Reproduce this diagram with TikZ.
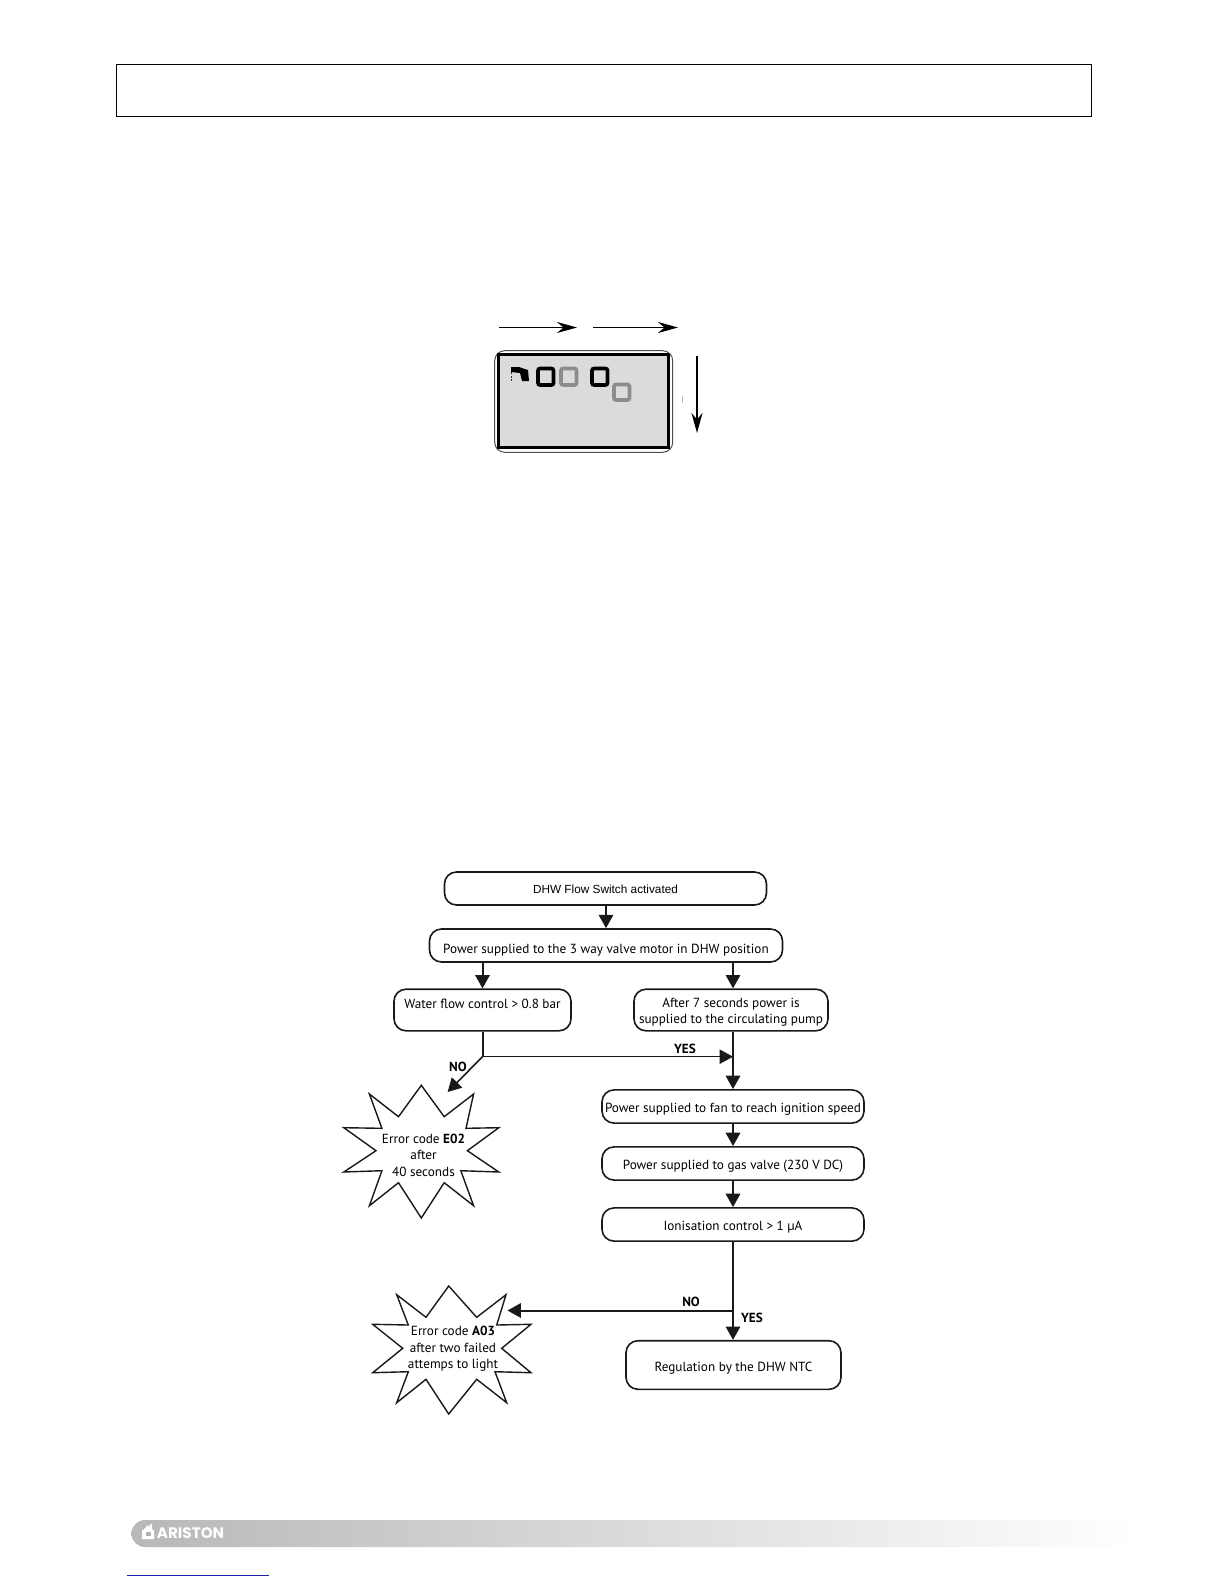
\documentclass[tikz,border=0pt]{standalone}
\usepackage{fontspec}
\setmainfont{PT Sans}
\newfontfamily\arialfont{Liberation Sans}
\newfontfamily\logofont{Poppins}
\usetikzlibrary{arrows.meta,positioning,calc}
\definecolor{lcdbg}{gray}{0.86}
\definecolor{seggray}{gray}{0.55}
\definecolor{linkblue}{RGB}{30,30,170}
\newcommand{\dn}{\rule{0pt}{7.6pt}}
\tikzset{
  flowbox/.style={draw=black!90,line width=0.8pt,rounded corners=6pt,inner sep=0pt,align=center,
    font=\fontsize{6.6}{8.2}\selectfont},
  burst/.style={draw=black!90,line width=0.7pt,fill=white,line join=miter},
  bursttext/.style={inner sep=0pt,align=center,font=\fontsize{6.6}{8.2}\selectfont},
  flowarrow/.style={line width=1pt,draw=black!90,-{Triangle[length=6.7pt,width=7.2pt]}},
  thinflow/.style={line width=0.45pt,draw=black!90,-{Triangle[length=6.7pt,width=7.2pt]}},
  lcdarrow/.style={line width=0.9pt,-{Stealth[length=10pt,width=5.5pt]}},
  seglabel/.style={inner sep=0pt,font=\bfseries\fontsize{6.6}{8}\selectfont},
  digit/.style={line width=1.8pt,rounded corners=1pt},
}
\begin{document}
\begin{tikzpicture}[x=0.5pt,y=-0.5pt]
\useasboundingbox (0,0) rectangle (1224,1584);
% header frame
\node[draw,line width=0.5pt,minimum width=487.5pt,minimum height=25.7pt,inner sep=0pt] (header) at (603.7,90.5) {};
% LCD
\coordinate (a1s) at (499,327.5); \coordinate (a1e) at (577,327.5);
\coordinate (a2s) at (593,327.5); \coordinate (a2e) at (678,327.5);
\coordinate (a3s) at (697,356);   \coordinate (a3e) at (697,433);
\draw[lcdarrow] (a1s) -- (a1e);
\draw[lcdarrow] (a2s) -- (a2e);
\draw[lcdarrow] (a3s) -- (a3e);
\draw[line width=0.5pt,rounded corners=5pt,draw=black!70] (494.7,350.7) rectangle (672.7,452.3);
\draw[fill=lcdbg,line width=1.2pt] (498.5,354.5) rectangle (668,447.5);
\fill (496.5,353) rectangle (499.5,448.5);
\fill (667,353.5) rectangle (670,448.5);
\draw[digit,draw=black] (538,368.5) rectangle (553.5,385);
\draw[digit,draw=seggray] (561,368.5) rectangle (576.5,385);
\draw[digit,draw=black] (592,368.5) rectangle (607.5,385);
\draw[digit,draw=seggray] (614,384.5) rectangle (629.5,400);
\fill (511,367) -- (519,367) -- (528,370) -- (529,381) -- (522,381) -- (520,373) -- (511,372) -- cycle;
\draw[line width=0.9pt,dash pattern=on 1pt off 0.8pt,black!80] (511.5,372) -- (511.5,381);
\draw[line width=0.6pt,black!25] (682.5,396) -- (682.5,403);
% flow boxes
\node[flowbox,minimum width=161pt,minimum height=16.5pt,font=\arialfont\fontsize{5.9}{7}\selectfont] (b1) at (605.5,888.5) {\rule{0pt}{5pt}DHW Flow Switch activated};
\node[flowbox,minimum width=176.5pt,minimum height=16.5pt] (b2) at (606,945.5) {\rule{0pt}{9pt}Power supplied to the 3 way valve motor in DHW position};
\node[flowbox,minimum width=88.5pt,minimum height=20.8pt] (b3) at (482.5,1010) {\rule{0pt}{7pt}Water flow control > 0.8 bar\\\mbox{}};
\node[flowbox,minimum width=97pt,minimum height=20.8pt] (b4) at (731,1010) {\rule{0pt}{7pt}After 7 seconds power is\\supplied to the circulating pump};
\node[flowbox,minimum width=131pt,minimum height=16.6pt] (b5) at (733,1106.5) {\rule{0pt}{7pt}Power supplied to fan to reach ignition speed};
\node[flowbox,minimum width=131pt,minimum height=16.6pt] (b6) at (733,1163.5) {\rule{0pt}{7pt}Power supplied to gas valve (230 V DC)};
\node[flowbox,minimum width=131pt,minimum height=16.6pt] (b7) at (733,1224.5) {\rule{0pt}{7pt}Ionisation control > 1 µA};
\node[flowbox,minimum width=107.5pt,minimum height=24.3pt] (b8) at (733.5,1365) {\dn Regulation by the DHW NTC};
% bursts
\draw[burst] (421.3,1085.3) -- (444.2,1116.7) -- (473.6,1094) -- (466,1128.3) -- (498.8,1127.7) -- (467.4,1150.7) -- (498.8,1172) -- (460.8,1170.7) -- (473.6,1205.7) -- (444.2,1182.7) -- (421.3,1218) -- (398.5,1182.7) -- (369.4,1205.7) -- (381.9,1170.7) -- (343.8,1172) -- (376,1150.7) -- (343.8,1127.7) -- (381.9,1128.3) -- (369.4,1094) -- (398.5,1116.7) -- cycle;
\node[bursttext] (s1) at (423.5,1155) {Error code \textbf{E02}\\after\\40 seconds};
\draw[burst] (448.7,1286) -- (476.7,1317.3) -- (506,1294.7) -- (496.7,1325) -- (531,1324.3) -- (501.7,1348.3) -- (531,1372.7) -- (495,1371.7) -- (506.7,1402.7) -- (476.7,1379.3) -- (448.7,1414) -- (426,1379.3) -- (396.7,1402.7) -- (408.3,1371.7) -- (372.7,1372.7) -- (402.7,1348.3) -- (372.7,1324.3) -- (408.3,1325) -- (396.7,1294.7) -- (426,1317.3) -- cycle;
\node[bursttext] (s2) at (453,1349) {Error code \textbf{A03}\\after two failed\\attemps to light};
% connectors
\coordinate (j1) at (b3 |- 0,1056.7);
\coordinate (j1e) at (733,1056.7);
\coordinate (no1) at (447.6,1092);
\coordinate (j2) at (733,1310.5);
\coordinate (no2) at (507.5,1310.5);
\draw[flowarrow] (b1.south -| b2) -- (b2.north);
\draw[flowarrow] (b2.south -| b3) -- (b3.north);
\draw[flowarrow] (b2.south -| b5) -- (b5 |- b4.north);
\draw[line width=1pt,black!90] (b3.south) -- (j1);
\draw[flowarrow,line width=0.8pt] (j1) -- (no1);
\draw[thinflow] (j1) -- (j1e);
\draw[flowarrow] (b5 |- b4.south) -- (b5.north);
\draw[flowarrow] (b5.south) -- (b6.north);
\draw[flowarrow] (b6.south) -- (b7.north);
\draw[flowarrow] (b7.south) -- (b7.south |- b8.north);
\draw[flowarrow] (j2) -- (no2);
% labels
\node[seglabel] (yes1) at (685,1048.5) {YES};
\node[seglabel] (no1l) at (458,1066.5) {NO};
\node[seglabel] (no2l) at (691,1301.5) {NO};
\node[seglabel] (yes2) at (752,1318) {YES};
% footer
\shade[left color=black!28,right color=white] (145,1520) -- (1135,1520) -- (1135,1547) -- (145,1547) arc[start angle=270,end angle=90,radius=6.75pt] -- cycle;
\fill[white] (142,1539) -- (142,1531) -- (148,1525) -- (150,1527) -- (150,1524) -- (152,1524) -- (152,1529) -- (154,1531) -- (154,1539) -- cycle;
\fill[black!30] (146,1532) rectangle (151,1536);
\node[inner sep=0pt,text=white,font=\logofont\bfseries\fontsize{7.6}{8}\selectfont] (logo) at (190.5,1533) {ARISTON};
\draw[linkblue,line width=0.5pt] (127,1575.7) -- (269,1575.7);
\end{tikzpicture}
\end{document}
